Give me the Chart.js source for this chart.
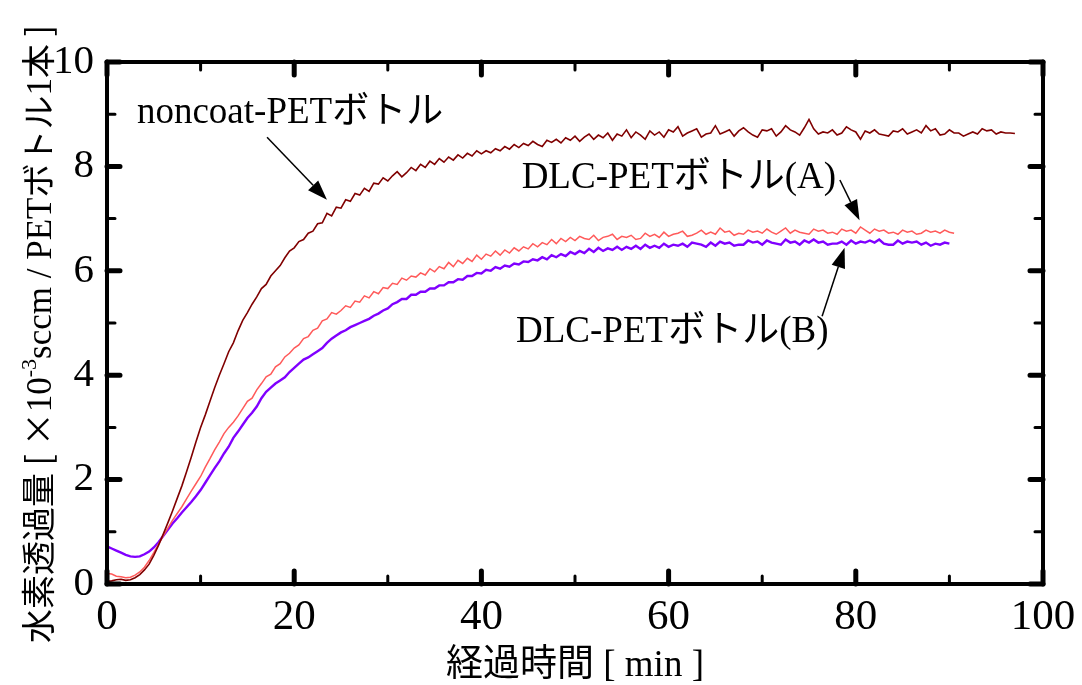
<!DOCTYPE html>
<html>
<head>
<meta charset="utf-8">
<script src="https://cdn.jsdelivr.net/npm/chart.js@4.4.1/dist/chart.umd.min.js"></script>
<style>
  html, body { margin: 0; padding: 0; background: #fff; }
  #wrap { width: 1082px; height: 685px; }
</style>
</head>
<body>
<div id="wrap"><canvas id="chart" width="1082" height="685"></canvas></div>
<script>
// logger interval (minutes) - each array below is one reading per step, starting at t = 0
const sampleStepMin = 0.5;

// noncoat PET bottle, t = 0 .. 97 min
const noncoatPet = [
  0.05, 0.06, 0.08, 0.09, 0.07, 0.08, 0.12, 0.18, 0.27, 0.38,
  0.55, 0.74, 0.95, 1.17, 1.40, 1.64, 1.88, 2.15, 2.43, 2.72,
  3.00, 3.24, 3.50, 3.76, 4.00, 4.22, 4.45, 4.62, 4.85, 5.05,
  5.20, 5.36, 5.50, 5.66, 5.74, 5.90, 6.00, 6.10, 6.25, 6.38,
  6.44, 6.56, 6.60, 6.72, 6.76, 6.90, 6.92, 7.10, 7.05, 7.22,
  7.20, 7.36, 7.33, 7.48, 7.45, 7.58, 7.52, 7.68, 7.66, 7.78,
  7.72, 7.82, 7.90, 7.80, 7.88, 7.98, 7.92, 8.04, 7.98, 8.10,
  8.04, 8.15, 8.08, 8.18, 8.12, 8.22, 8.16, 8.25, 8.20, 8.30,
  8.24, 8.30, 8.26, 8.34, 8.30, 8.38, 8.33, 8.42, 8.36, 8.44,
  8.40, 8.48, 8.42, 8.38, 8.50, 8.46, 8.52, 8.45, 8.55, 8.50,
  8.58, 8.48, 8.56, 8.62, 8.52, 8.60, 8.55, 8.64, 8.50, 8.62,
  8.58, 8.70, 8.55, 8.66, 8.60, 8.52, 8.68, 8.60, 8.66, 8.56,
  8.70, 8.66, 8.76, 8.58, 8.64, 8.68, 8.72, 8.56, 8.62, 8.64,
  8.78, 8.62, 8.66, 8.70, 8.58, 8.68, 8.74, 8.66, 8.60, 8.56,
  8.70, 8.68, 8.72, 8.58, 8.66, 8.78, 8.70, 8.66, 8.60, 8.74,
  8.90, 8.72, 8.62, 8.66, 8.64, 8.70, 8.60, 8.64, 8.76, 8.70,
  8.66, 8.52, 8.68, 8.64, 8.70, 8.62, 8.60, 8.58, 8.68, 8.66,
  8.72, 8.62, 8.66, 8.70, 8.64, 8.78, 8.68, 8.72, 8.60, 8.62,
  8.70, 8.64, 8.64, 8.58, 8.62, 8.66, 8.62, 8.72, 8.68, 8.70,
  8.62, 8.66, 8.64, 8.64, 8.63
];

// DLC coated bottle (A), t = 0 .. 90.5 min
const dlcPetA = [
  0.20, 0.19, 0.15, 0.14, 0.12, 0.13, 0.17, 0.23, 0.32, 0.45,
  0.60, 0.76, 0.92, 1.07, 1.22, 1.35, 1.48, 1.63, 1.78, 1.92,
  2.06, 2.24, 2.40, 2.57, 2.72, 2.88, 3.00, 3.10, 3.22, 3.36,
  3.50, 3.56, 3.72, 3.84, 3.97, 4.02, 4.16, 4.22, 4.35, 4.42,
  4.52, 4.58, 4.70, 4.74, 4.86, 4.90, 5.04, 5.08, 5.20, 5.17,
  5.24, 5.33, 5.30, 5.42, 5.40, 5.52, 5.48, 5.60, 5.56, 5.68,
  5.66, 5.76, 5.74, 5.86, 5.82, 5.90, 5.88, 5.96, 5.92, 6.04,
  5.98, 6.08, 6.04, 6.16, 6.08, 6.20, 6.14, 6.24, 6.18, 6.30,
  6.22, 6.32, 6.28, 6.38, 6.30, 6.40, 6.34, 6.44, 6.38, 6.46,
  6.42, 6.52, 6.46, 6.54, 6.50, 6.60, 6.52, 6.62, 6.56, 6.64,
  6.58, 6.66, 6.62, 6.60, 6.68, 6.58, 6.64, 6.66, 6.70, 6.60,
  6.66, 6.64, 6.68, 6.60, 6.62, 6.72, 6.66, 6.70, 6.64, 6.74,
  6.66, 6.70, 6.72, 6.76, 6.66, 6.68, 6.72, 6.78, 6.70, 6.74,
  6.70, 6.82, 6.74, 6.76, 6.68, 6.72, 6.70, 6.78, 6.74, 6.76,
  6.72, 6.80, 6.74, 6.70, 6.76, 6.82, 6.72, 6.78, 6.74, 6.72,
  6.70, 6.80, 6.76, 6.78, 6.72, 6.74, 6.70, 6.80, 6.76, 6.78,
  6.72, 6.84, 6.78, 6.72, 6.80, 6.76, 6.78, 6.72, 6.74, 6.70,
  6.78, 6.74, 6.76, 6.70, 6.72, 6.78, 6.74, 6.76, 6.72, 6.78,
  6.74, 6.72
];

// DLC coated bottle (B), t = 0 .. 90 min
const dlcPetB = [
  0.72, 0.68, 0.64, 0.60, 0.56, 0.53, 0.52, 0.53, 0.57, 0.62,
  0.70, 0.80, 0.92, 1.04, 1.16, 1.26, 1.37, 1.47, 1.57, 1.68,
  1.80, 1.94, 2.08, 2.22, 2.35, 2.50, 2.63, 2.80, 2.92, 3.05,
  3.18, 3.28, 3.40, 3.56, 3.68, 3.76, 3.84, 3.90, 3.96, 4.06,
  4.14, 4.22, 4.30, 4.34, 4.40, 4.46, 4.52, 4.62, 4.70, 4.76,
  4.82, 4.86, 4.92, 4.96, 5.00, 5.04, 5.08, 5.14, 5.18, 5.24,
  5.28, 5.36, 5.40, 5.46, 5.46, 5.54, 5.54, 5.60, 5.60, 5.66,
  5.66, 5.72, 5.72, 5.78, 5.78, 5.84, 5.83, 5.90, 5.90, 5.96,
  5.95, 6.02, 6.00, 6.07, 6.04, 6.10, 6.08, 6.14, 6.12, 6.18,
  6.17, 6.22, 6.20, 6.26, 6.22, 6.30, 6.26, 6.32, 6.28, 6.36,
  6.32, 6.38, 6.34, 6.42, 6.36, 6.44, 6.38, 6.43, 6.40, 6.46,
  6.40, 6.46, 6.42, 6.48, 6.42, 6.50, 6.44, 6.48, 6.44, 6.52,
  6.46, 6.50, 6.48, 6.52, 6.46, 6.54, 6.52, 6.50, 6.46, 6.54,
  6.48, 6.56, 6.52, 6.54, 6.48, 6.50, 6.50, 6.58, 6.54, 6.56,
  6.50, 6.58, 6.54, 6.52, 6.50, 6.60, 6.54, 6.56, 6.50, 6.58,
  6.54, 6.60, 6.54, 6.56, 6.50, 6.52, 6.52, 6.56, 6.50, 6.58,
  6.52, 6.56, 6.54, 6.58, 6.54, 6.60, 6.52, 6.50, 6.50, 6.58,
  6.52, 6.56, 6.54, 6.56, 6.50, 6.54, 6.48, 6.52, 6.50, 6.54,
  6.52
];

const seriesLabels = ['noncoat-PETボトル', 'DLC-PETボトル(A)', 'DLC-PETボトル(B)'];

const xMajorTicks = [0, 20, 40, 60, 80, 100];
const xMinorTicks = [10, 30, 50, 70, 90];
const yMajorTicks = [0, 2, 4, 6, 8, 10];
const yMinorTicks = [1, 3, 5, 7, 9];

const xTitle = '経過時間 [ min ]';
// y title pieces: cjk = gothic face, sup = superscript
const yTitleParts = [
  { text: '水素透過量 [ ×', cjk: true },
  { text: '10' },
  { text: '-3', sup: true },
  { text: 'sccm / PET' },
  { text: 'ボトル', cjk: true },
  { text: '1' },
  { text: '本 ]', cjk: true }
];

// callouts, given in data units (minutes, value)
const callouts = [
  { text: seriesLabels[0], at: [3.2, 9.02], from: [17.1, 8.56], to: [23.5, 7.36] },
  { text: seriesLabels[1], at: [44.3, 7.78], from: [78.3, 7.74], to: [80.4, 6.97] },
  { text: seriesLabels[2], at: [43.7, 4.83], from: [76.4, 5.13], to: [78.8, 6.44] }
];

const serifFont = "'Liberation Serif', 'Times New Roman', serif";
const mixedFont = "'Liberation Serif', 'Noto Sans CJK JP', serif";
const cjkFont = "'Noto Sans CJK JP', sans-serif";

function toPoints(values) {
  return values.map((v, i) => ({ x: i * sampleStepMin, y: v }));
}

function drawArrow(ctx, x0, y0, x1, y1) {
  const ang = Math.atan2(y1 - y0, x1 - x0);
  const headLen = 20, headHalf = 7;
  const bx = x1 - headLen * Math.cos(ang);
  const by = y1 - headLen * Math.sin(ang);
  ctx.beginPath();
  ctx.moveTo(x0, y0);
  ctx.lineTo(bx, by);
  ctx.stroke();
  ctx.beginPath();
  ctx.moveTo(x1, y1);
  ctx.lineTo(bx + headHalf * Math.sin(ang), by - headHalf * Math.cos(ang));
  ctx.lineTo(bx - headHalf * Math.sin(ang), by + headHalf * Math.cos(ang));
  ctx.closePath();
  ctx.fill();
}

// frame, inward ticks on all four sides, callouts
const framePlugin = {
  id: 'frame',
  afterDatasetsDraw(chart) {
    const { ctx, chartArea: a, scales: { x, y } } = chart;
    ctx.save();
    ctx.strokeStyle = '#000';
    ctx.fillStyle = '#000';
    ctx.lineCap = 'round';

    const tick = (list, len, width) => {
      ctx.lineWidth = width;
      list.forEach(v => {
        const px = x.getPixelForValue(v);
        ctx.beginPath();
        ctx.moveTo(px, a.bottom); ctx.lineTo(px, a.bottom - len);
        ctx.moveTo(px, a.top); ctx.lineTo(px, a.top + len);
        ctx.stroke();
      });
    };
    const tickY = (list, len, width) => {
      ctx.lineWidth = width;
      list.forEach(v => {
        const py = y.getPixelForValue(v);
        ctx.beginPath();
        ctx.moveTo(a.left, py); ctx.lineTo(a.left + len, py);
        ctx.moveTo(a.right, py); ctx.lineTo(a.right - len, py);
        ctx.stroke();
      });
    };
    tick(xMajorTicks, 13, 5);
    tick(xMinorTicks, 8, 3);
    tickY(yMajorTicks, 13, 5);
    tickY(yMinorTicks, 8, 3);

    ctx.lineCap = 'butt';
    ctx.lineWidth = 4;
    ctx.strokeRect(a.left, a.top, a.right - a.left, a.bottom - a.top);

    // callouts
    ctx.font = '37px ' + mixedFont;
    ctx.textBaseline = 'middle';
    ctx.textAlign = 'left';
    ctx.lineWidth = 1.5;
    callouts.forEach(c => {
      ctx.fillText(c.text, x.getPixelForValue(c.at[0]), y.getPixelForValue(c.at[1]));
      drawArrow(ctx,
        x.getPixelForValue(c.from[0]), y.getPixelForValue(c.from[1]),
        x.getPixelForValue(c.to[0]), y.getPixelForValue(c.to[1]));
    });
    ctx.restore();
  },
  afterDraw(chart) {
    // vertical y title with superscript
    const { ctx, scales: { y } } = chart;
    const fontOf = p => p.sup ? '22px ' + serifFont : (p.cjk ? '34px ' + cjkFont : '35px ' + serifFont);
    ctx.save();
    let total = 0;
    yTitleParts.forEach(p => { ctx.font = fontOf(p); p.w = ctx.measureText(p.text).width; total += p.w; });
    const cy = (y.top + y.bottom) / 2 + 11;
    ctx.translate(39, cy);
    ctx.rotate(-Math.PI / 2);
    ctx.fillStyle = '#000';
    ctx.textBaseline = 'alphabetic';
    let pos = -total / 2;
    yTitleParts.forEach(p => {
      ctx.font = fontOf(p);
      ctx.fillText(p.text, pos, p.sup ? -3 : 12);
      pos += p.w;
    });
    ctx.restore();
  }
};

const ctx = document.getElementById('chart').getContext('2d');
new Chart(ctx, {
  type: 'line',
  data: {
    datasets: [
      { label: seriesLabels[0], data: toPoints(noncoatPet), borderColor: '#800000', borderWidth: 1.6 },
      { label: seriesLabels[1], data: toPoints(dlcPetA), borderColor: '#ff5a5a', borderWidth: 1.5 },
      { label: seriesLabels[2], data: toPoints(dlcPetB), borderColor: '#8000ff', borderWidth: 2.4 }
    ]
  },
  options: {
    responsive: false,
    animation: false,
    devicePixelRatio: 1,
    layout: { padding: { left: 0, right: 39, top: 62, bottom: 0 } },
    elements: { point: { radius: 0 }, line: { tension: 0, fill: false } },
    plugins: { legend: { display: false }, tooltip: { enabled: false } },
    scales: {
      x: {
        type: 'linear',
        min: 0,
        max: 100,
        ticks: { stepSize: 20, padding: 0, maxRotation: 0, color: '#000', font: { family: serifFont, size: 43 } },
        grid: { display: false },
        border: { display: false },
        title: {
          display: true,
          text: xTitle,
          color: '#000',
          font: { family: mixedFont, size: 37, lineHeight: 1.0 },
          padding: { top: 0, bottom: 0 }
        },
        afterFit(scale) { scale.height = 101; }
      },
      y: {
        min: 0,
        max: 10,
        ticks: { stepSize: 2, padding: 5, color: '#000', font: { family: serifFont, size: 41 } },
        grid: { display: false },
        border: { display: false },
        afterFit(scale) { scale.width = 107; }
      }
    }
  },
  plugins: [framePlugin]
});
</script>
</body>
</html>
